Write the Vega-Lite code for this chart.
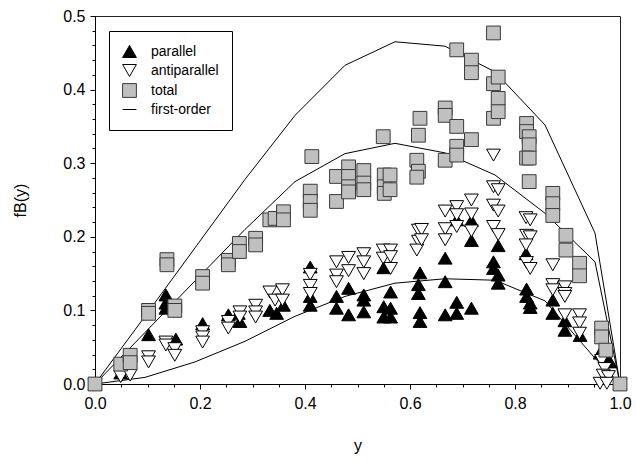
{
  "$schema": "https://vega.github.io/schema/vega-lite/v6.json",
  "width": 525,
  "height": 368,
  "autosize": "none",
  "padding": {"left": 95, "top": 16, "right": 16, "bottom": 78},
  "background": "white",
  "config": {
    "font": "Liberation Sans",
    "view": {"stroke": "#222222", "strokeWidth": 1},
    "axis": {"grid": false, "domainColor": "black", "tickColor": "black", "labelColor": "black", "titleColor": "black", "labelFont": "Liberation Sans", "titleFont": "Liberation Sans", "titleFontWeight": "normal"},
    "legend": {"orient": "none", "legendX": 14, "legendY": 15, "strokeColor": "black", "fillColor": "white", "padding": 13, "labelFontSize": 14, "labelFont": "Liberation Sans", "labelColor": "black", "labelOffset": 14, "rowPadding": 2, "symbolStrokeWidth": 1, "symbolOpacity": 1}
  },
  "datasets": {
    "pts": [
      {"s":"parallel","x":0,"y":0},{"s":"parallel","x":0.049,"y":0.015},{"s":"parallel","x":0.102,"y":0.067},
      {"s":"parallel","x":0.135,"y":0.121},{"s":"parallel","x":0.135,"y":0.110},{"s":"parallel","x":0.135,"y":0.103},
      {"s":"parallel","x":0.154,"y":0.061},{"s":"parallel","x":0.205,"y":0.082},{"s":"parallel","x":0.254,"y":0.094},
      {"s":"parallel","x":0.273,"y":0.096},{"s":"parallel","x":0.276,"y":0.085},{"s":"parallel","x":0.333,"y":0.100},
      {"s":"parallel","x":0.346,"y":0.096},{"s":"parallel","x":0.359,"y":0.107},{"s":"parallel","x":0.41,"y":0.159},
      {"s":"parallel","x":0.41,"y":0.119},{"s":"parallel","x":0.41,"y":0.107},{"s":"parallel","x":0.46,"y":0.119},
      {"s":"parallel","x":0.46,"y":0.103},{"s":"parallel","x":0.483,"y":0.130},{"s":"parallel","x":0.483,"y":0.094},
      {"s":"parallel","x":0.512,"y":0.121},{"s":"parallel","x":0.512,"y":0.114},{"s":"parallel","x":0.512,"y":0.098},
      {"s":"parallel","x":0.55,"y":0.158},{"s":"parallel","x":0.563,"y":0.125},{"s":"parallel","x":0.55,"y":0.105},
      {"s":"parallel","x":0.55,"y":0.091},{"s":"parallel","x":0.563,"y":0.103},{"s":"parallel","x":0.563,"y":0.091},
      {"s":"parallel","x":0.619,"y":0.151},{"s":"parallel","x":0.616,"y":0.135},{"s":"parallel","x":0.616,"y":0.123},
      {"s":"parallel","x":0.619,"y":0.097},{"s":"parallel","x":0.619,"y":0.085},{"s":"parallel","x":0.667,"y":0.171},
      {"s":"parallel","x":0.667,"y":0.139},{"s":"parallel","x":0.667,"y":0.094},{"s":"parallel","x":0.689,"y":0.223},
      {"s":"parallel","x":0.689,"y":0.111},{"s":"parallel","x":0.689,"y":0.096},{"s":"parallel","x":0.717,"y":0.222},
      {"s":"parallel","x":0.717,"y":0.195},{"s":"parallel","x":0.717,"y":0.103},{"s":"parallel","x":0.759,"y":0.166},
      {"s":"parallel","x":0.759,"y":0.157},{"s":"parallel","x":0.768,"y":0.148},{"s":"parallel","x":0.768,"y":0.137},
      {"s":"parallel","x":0.768,"y":0.188},{"s":"parallel","x":0.821,"y":0.177},{"s":"parallel","x":0.822,"y":0.129},
      {"s":"parallel","x":0.822,"y":0.119},{"s":"parallel","x":0.829,"y":0.110},{"s":"parallel","x":0.829,"y":0.104},
      {"s":"parallel","x":0.872,"y":0.114},{"s":"parallel","x":0.872,"y":0.096},{"s":"parallel","x":0.895,"y":0.086},
      {"s":"parallel","x":0.895,"y":0.073},{"s":"parallel","x":0.924,"y":0.066},{"s":"parallel","x":0.962,"y":0.042},
      {"s":"parallel","x":0.975,"y":0.033},{"s":"parallel","x":0.981,"y":0.030},{"s":"parallel","x":1.0,"y":0},

      {"s":"antiparallel","x":0,"y":0},{"s":"antiparallel","x":0.049,"y":0.010},{"s":"antiparallel","x":0.067,"y":0.012},
      {"s":"antiparallel","x":0.102,"y":0.037},{"s":"antiparallel","x":0.102,"y":0.030},{"s":"antiparallel","x":0.135,"y":0.057},
      {"s":"antiparallel","x":0.135,"y":0.053},{"s":"antiparallel","x":0.152,"y":0.048},{"s":"antiparallel","x":0.152,"y":0.039},
      {"s":"antiparallel","x":0.205,"y":0.071},{"s":"antiparallel","x":0.205,"y":0.064},{"s":"antiparallel","x":0.205,"y":0.057},
      {"s":"antiparallel","x":0.254,"y":0.085},{"s":"antiparallel","x":0.254,"y":0.076},{"s":"antiparallel","x":0.276,"y":0.098},
      {"s":"antiparallel","x":0.276,"y":0.091},{"s":"antiparallel","x":0.306,"y":0.107},{"s":"antiparallel","x":0.306,"y":0.098},
      {"s":"antiparallel","x":0.306,"y":0.091},{"s":"antiparallel","x":0.333,"y":0.125},{"s":"antiparallel","x":0.343,"y":0.114},
      {"s":"antiparallel","x":0.357,"y":0.128},{"s":"antiparallel","x":0.357,"y":0.114},{"s":"antiparallel","x":0.41,"y":0.149},
      {"s":"antiparallel","x":0.41,"y":0.134},{"s":"antiparallel","x":0.41,"y":0.123},{"s":"antiparallel","x":0.46,"y":0.166},
      {"s":"antiparallel","x":0.46,"y":0.148},{"s":"antiparallel","x":0.46,"y":0.139},{"s":"antiparallel","x":0.483,"y":0.172},
      {"s":"antiparallel","x":0.483,"y":0.154},{"s":"antiparallel","x":0.512,"y":0.177},{"s":"antiparallel","x":0.512,"y":0.166},
      {"s":"antiparallel","x":0.512,"y":0.150},{"s":"antiparallel","x":0.549,"y":0.182},{"s":"antiparallel","x":0.549,"y":0.171},
      {"s":"antiparallel","x":0.563,"y":0.182},{"s":"antiparallel","x":0.563,"y":0.173},{"s":"antiparallel","x":0.563,"y":0.157},
      {"s":"antiparallel","x":0.616,"y":0.209},{"s":"antiparallel","x":0.616,"y":0.194},{"s":"antiparallel","x":0.613,"y":0.182},
      {"s":"antiparallel","x":0.622,"y":0.210},{"s":"antiparallel","x":0.622,"y":0.196},{"s":"antiparallel","x":0.667,"y":0.235},
      {"s":"antiparallel","x":0.667,"y":0.211},{"s":"antiparallel","x":0.667,"y":0.196},{"s":"antiparallel","x":0.689,"y":0.241},
      {"s":"antiparallel","x":0.689,"y":0.230},{"s":"antiparallel","x":0.689,"y":0.214},{"s":"antiparallel","x":0.717,"y":0.250},
      {"s":"antiparallel","x":0.717,"y":0.231},{"s":"antiparallel","x":0.717,"y":0.208},{"s":"antiparallel","x":0.759,"y":0.311},
      {"s":"antiparallel","x":0.759,"y":0.268},{"s":"antiparallel","x":0.768,"y":0.264},{"s":"antiparallel","x":0.759,"y":0.243},
      {"s":"antiparallel","x":0.768,"y":0.235},{"s":"antiparallel","x":0.759,"y":0.214},{"s":"antiparallel","x":0.768,"y":0.203},
      {"s":"antiparallel","x":0.821,"y":0.226},{"s":"antiparallel","x":0.829,"y":0.223},{"s":"antiparallel","x":0.822,"y":0.202},
      {"s":"antiparallel","x":0.829,"y":0.200},{"s":"antiparallel","x":0.821,"y":0.189},{"s":"antiparallel","x":0.822,"y":0.165},
      {"s":"antiparallel","x":0.829,"y":0.157},{"s":"antiparallel","x":0.872,"y":0.162},{"s":"antiparallel","x":0.872,"y":0.135},
      {"s":"antiparallel","x":0.872,"y":0.128},{"s":"antiparallel","x":0.895,"y":0.132},{"s":"antiparallel","x":0.895,"y":0.123},
      {"s":"antiparallel","x":0.895,"y":0.119},{"s":"antiparallel","x":0.895,"y":0.094},{"s":"antiparallel","x":0.923,"y":0.094},
      {"s":"antiparallel","x":0.923,"y":0.083},{"s":"antiparallel","x":0.923,"y":0.069},{"s":"antiparallel","x":0.965,"y":0.032},
      {"s":"antiparallel","x":0.971,"y":0.021},{"s":"antiparallel","x":0.968,"y":0.012},{"s":"antiparallel","x":0.978,"y":0.010},
      {"s":"antiparallel","x":0.962,"y":0.001},{"s":"antiparallel","x":0.975,"y":0.001},{"s":"antiparallel","x":1.0,"y":0},

      {"s":"total","x":0,"y":0},{"s":"total","x":0.049,"y":0.027},{"s":"total","x":0.067,"y":0.039},{"s":"total","x":0.067,"y":0.029},
      {"s":"total","x":0.102,"y":0.100},{"s":"total","x":0.102,"y":0.096},{"s":"total","x":0.137,"y":0.169},{"s":"total","x":0.137,"y":0.162},
      {"s":"total","x":0.152,"y":0.106},{"s":"total","x":0.152,"y":0.100},{"s":"total","x":0.205,"y":0.146},{"s":"total","x":0.205,"y":0.137},
      {"s":"total","x":0.254,"y":0.168},{"s":"total","x":0.254,"y":0.162},{"s":"total","x":0.275,"y":0.191},{"s":"total","x":0.275,"y":0.180},
      {"s":"total","x":0.306,"y":0.198},{"s":"total","x":0.306,"y":0.189},{"s":"total","x":0.333,"y":0.223},{"s":"total","x":0.343,"y":0.225},
      {"s":"total","x":0.359,"y":0.234},{"s":"total","x":0.359,"y":0.223},{"s":"total","x":0.41,"y":0.262},{"s":"total","x":0.41,"y":0.248},
      {"s":"total","x":0.41,"y":0.236},{"s":"total","x":0.413,"y":0.309},{"s":"total","x":0.46,"y":0.282},{"s":"total","x":0.46,"y":0.248},
      {"s":"total","x":0.483,"y":0.295},{"s":"total","x":0.483,"y":0.282},{"s":"total","x":0.483,"y":0.268},{"s":"total","x":0.483,"y":0.261},
      {"s":"total","x":0.512,"y":0.290},{"s":"total","x":0.512,"y":0.273},{"s":"total","x":0.512,"y":0.264},{"s":"total","x":0.549,"y":0.336},
      {"s":"total","x":0.551,"y":0.284},{"s":"total","x":0.551,"y":0.268},{"s":"total","x":0.551,"y":0.259},{"s":"total","x":0.562,"y":0.284},
      {"s":"total","x":0.562,"y":0.264},{"s":"total","x":0.613,"y":0.304},{"s":"total","x":0.616,"y":0.289},{"s":"total","x":0.613,"y":0.281},
      {"s":"total","x":0.619,"y":0.361},{"s":"total","x":0.616,"y":0.338},{"s":"total","x":0.667,"y":0.375},{"s":"total","x":0.667,"y":0.365},
      {"s":"total","x":0.667,"y":0.304},{"s":"total","x":0.689,"y":0.454},{"s":"total","x":0.689,"y":0.350},{"s":"total","x":0.689,"y":0.323},
      {"s":"total","x":0.689,"y":0.311},{"s":"total","x":0.717,"y":0.440},{"s":"total","x":0.717,"y":0.423},{"s":"total","x":0.717,"y":0.332},
      {"s":"total","x":0.759,"y":0.477},{"s":"total","x":0.759,"y":0.408},{"s":"total","x":0.759,"y":0.361},{"s":"total","x":0.768,"y":0.417},
      {"s":"total","x":0.768,"y":0.388},{"s":"total","x":0.768,"y":0.370},{"s":"total","x":0.822,"y":0.354},{"s":"total","x":0.822,"y":0.343},
      {"s":"total","x":0.827,"y":0.336},{"s":"total","x":0.827,"y":0.325},{"s":"total","x":0.822,"y":0.307},{"s":"total","x":0.827,"y":0.307},
      {"s":"total","x":0.827,"y":0.275},{"s":"total","x":0.872,"y":0.259},{"s":"total","x":0.872,"y":0.245},{"s":"total","x":0.872,"y":0.229},
      {"s":"total","x":0.897,"y":0.202},{"s":"total","x":0.897,"y":0.182},{"s":"total","x":0.923,"y":0.164},{"s":"total","x":0.923,"y":0.147},
      {"s":"total","x":0.965,"y":0.076},{"s":"total","x":0.965,"y":0.064},{"s":"total","x":0.973,"y":0.046},{"s":"total","x":1.0,"y":0}
    ],
    "curves": [
      {"s":"first-order","c":"top","x":0,"y":0},{"s":"first-order","c":"top","x":0.0952,"y":0.092},{"s":"first-order","c":"top","x":0.1905,"y":0.185},
      {"s":"first-order","c":"top","x":0.2857,"y":0.278},{"s":"first-order","c":"top","x":0.381,"y":0.365},{"s":"first-order","c":"top","x":0.4762,"y":0.433},
      {"s":"first-order","c":"top","x":0.5714,"y":0.465},{"s":"first-order","c":"top","x":0.6667,"y":0.459},{"s":"first-order","c":"top","x":0.7619,"y":0.424},
      {"s":"first-order","c":"top","x":0.8571,"y":0.352},{"s":"first-order","c":"top","x":0.9524,"y":0.205},{"s":"first-order","c":"top","x":1.0,"y":0},
      {"s":"first-order","c":"mid","x":0,"y":0},{"s":"first-order","c":"mid","x":0.0952,"y":0.07},{"s":"first-order","c":"mid","x":0.1905,"y":0.14},
      {"s":"first-order","c":"mid","x":0.2857,"y":0.21},{"s":"first-order","c":"mid","x":0.381,"y":0.275},{"s":"first-order","c":"mid","x":0.4762,"y":0.313},
      {"s":"first-order","c":"mid","x":0.5714,"y":0.327},{"s":"first-order","c":"mid","x":0.6667,"y":0.314},{"s":"first-order","c":"mid","x":0.7619,"y":0.284},
      {"s":"first-order","c":"mid","x":0.8571,"y":0.232},{"s":"first-order","c":"mid","x":0.9524,"y":0.166},{"s":"first-order","c":"mid","x":1.0,"y":0},
      {"s":"first-order","c":"low","x":0,"y":0},{"s":"first-order","c":"low","x":0.0952,"y":0.009},{"s":"first-order","c":"low","x":0.1905,"y":0.03},
      {"s":"first-order","c":"low","x":0.2857,"y":0.058},{"s":"first-order","c":"low","x":0.381,"y":0.092},{"s":"first-order","c":"low","x":0.4762,"y":0.119},
      {"s":"first-order","c":"low","x":0.5714,"y":0.137},{"s":"first-order","c":"low","x":0.6667,"y":0.143},{"s":"first-order","c":"low","x":0.7619,"y":0.141},
      {"s":"first-order","c":"low","x":0.8571,"y":0.113},{"s":"first-order","c":"low","x":0.9524,"y":0.035},{"s":"first-order","c":"low","x":1.0,"y":0}
    ]
  },
  "layer": [
    {
      "data": {"name": "curves"},
      "mark": {"type": "line", "strokeWidth": 1, "clip": false},
      "encoding": {
        "x": {"field": "x", "type": "quantitative"},
        "y": {"field": "y", "type": "quantitative"},
        "detail": {"field": "c"},
        "stroke": {"field": "s", "type": "nominal"}
      }
    },
    {
      "data": {"name": "pts"},
      "mark": {"type": "point", "filled": true, "strokeWidth": 1, "opacity": 1},
      "encoding": {
        "x": {"field": "x", "type": "quantitative"},
        "y": {"field": "y", "type": "quantitative"},
        "shape": {"field": "s", "type": "nominal"},
        "fill": {"field": "s", "type": "nominal"},
        "stroke": {"field": "s", "type": "nominal"},
        "size": {"field": "s", "type": "nominal", "legend": null}
      }
    }
  ],
  "encoding": {
    "x": {
      "field": "x", "type": "quantitative",
      "scale": {"domain": [0, 1], "nice": false, "zero": false},
      "axis": {
        "title": "y", "titleFontSize": 16, "titlePadding": 26,
        "values": [0,0.05,0.1,0.15,0.2,0.25,0.3,0.35,0.4,0.45,0.5,0.55,0.6,0.65,0.7,0.75,0.8,0.85,0.9,0.95,1.0],
        "labelExpr": "abs(datum.value*5 - round(datum.value*5)) < 0.001 ? format(datum.value, '.1f') : ''",
        "labelFontSize": 16, "labelPadding": 6, "labelOverlap": false, "labelFlush": false,
        "tickSize": {"condition": {"test": "abs(datum.value*5 - round(datum.value*5)) < 0.001", "value": 5}, "value": 3}
      }
    },
    "y": {
      "field": "y", "type": "quantitative",
      "scale": {"domain": [0, 0.5], "nice": false, "zero": false},
      "axis": {
        "title": "fB(y)", "titleFontSize": 16, "titlePadding": 34,
        "values": [0,0.02,0.04,0.06,0.08,0.1,0.12,0.14,0.16,0.18,0.2,0.22,0.24,0.26,0.28,0.3,0.32,0.34,0.36,0.38,0.4,0.42,0.44,0.46,0.48,0.5],
        "labelExpr": "abs(datum.value*10 - round(datum.value*10)) < 0.001 ? format(datum.value, '.1f') : ''",
        "labelFontSize": 16, "labelPadding": 5, "labelOverlap": false, "labelFlush": false,
        "tickSize": {"condition": {"test": "abs(datum.value*10 - round(datum.value*10)) < 0.001", "value": 5}, "value": 3}
      }
    },
    "shape": {
      "scale": {"domain": ["parallel", "antiparallel", "total", "first-order"], "range": ["triangle-up", "triangle-down", "square", "stroke"]},
      "legend": {"title": null, "orient": "none", "legendX": 14, "legendY": 15}
    },
    "fill": {
      "scale": {"domain": ["parallel", "antiparallel", "total", "first-order"], "range": ["#000000", "#ffffff", "#c0c0c0", "transparent"]},
      "legend": {"title": null, "orient": "none", "legendX": 14, "legendY": 15}
    },
    "stroke": {
      "scale": {"domain": ["parallel", "antiparallel", "total", "first-order"], "range": ["#000000", "#000000", "#3a3a3a", "#000000"]},
      "legend": {"title": null, "orient": "none", "legendX": 14, "legendY": 15}
    },
    "size": {
      "scale": {"domain": ["parallel", "antiparallel", "total", "first-order"], "range": [190, 190, 150, 1000]}
    }
  }
}
